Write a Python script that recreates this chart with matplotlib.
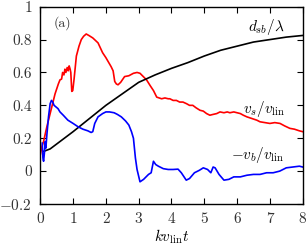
import numpy as np
import matplotlib
matplotlib.use('Agg')
import matplotlib.pyplot as plt

plt.rcParams['font.family'] = 'serif'
plt.rcParams['font.serif'] = ['cmr10']
plt.rcParams['mathtext.fontset'] = 'cm'
plt.rcParams['axes.formatter.use_mathtext'] = True

# %% data

red_x = [0.0, 0.05, 0.1, 0.2, 0.3, 0.4, 0.45, 0.5, 0.55, 0.6, 0.65, 0.68, 0.72, 0.75, 0.78,
         0.82, 0.85, 0.88, 0.91, 0.93, 0.96, 0.99, 1.03, 1.1, 1.18, 1.25, 1.32, 1.40, 1.48,
         1.6, 1.76, 1.9, 2.0, 2.16, 2.22, 2.27, 2.32, 2.37, 2.45, 2.57, 2.7, 2.84, 2.95,
         3.04, 3.14, 3.24, 3.35, 3.45, 3.55, 3.7, 3.8, 3.9, 3.95, 4.05, 4.15, 4.25, 4.35,
         4.46, 4.55, 4.65, 4.75, 4.87, 4.97, 5.07, 5.17, 5.27, 5.38, 5.48, 5.6, 5.7, 5.78,
         5.9, 6.0, 6.1, 6.19, 6.3, 6.45, 6.6, 6.7, 6.85, 7.0, 7.15, 7.31, 7.45, 7.61, 7.75,
         7.9, 8.0]
red_y = [0.10, 0.15, 0.18, 0.27, 0.35, 0.43, 0.47, 0.50, 0.53, 0.555, 0.56, 0.60, 0.585, 0.62, 0.60,
         0.63, 0.61, 0.64, 0.62, 0.60, 0.485, 0.49, 0.56, 0.70, 0.76, 0.80, 0.82, 0.834, 0.825,
         0.81, 0.78, 0.72, 0.69, 0.635, 0.61, 0.545, 0.53, 0.525, 0.54, 0.575, 0.58, 0.595, 0.60,
         0.595, 0.575, 0.555, 0.52, 0.49, 0.45, 0.44, 0.445, 0.44, 0.44, 0.43, 0.43, 0.42, 0.42,
         0.41, 0.40, 0.40, 0.385, 0.37, 0.365, 0.35, 0.34, 0.345, 0.35, 0.36, 0.355, 0.36, 0.355,
         0.36, 0.355, 0.35, 0.34, 0.33, 0.32, 0.31, 0.30, 0.295, 0.29, 0.295, 0.29, 0.275, 0.26, 0.255,
         0.245, 0.24]

blue_x = [0.06, 0.08, 0.1, 0.13, 0.15, 0.17, 0.2, 0.25, 0.3, 0.34, 0.38, 0.42, 0.48, 0.54, 0.6,
          0.7, 0.84, 1.0, 1.15, 1.3, 1.45, 1.55, 1.6, 1.66, 1.76, 1.9, 2.0, 2.11, 2.25, 2.35,
          2.47, 2.6, 2.7, 2.78, 2.84, 2.9, 2.95, 3.04, 3.15, 3.3, 3.38, 3.45, 3.52, 3.6, 3.75,
          3.9, 4.05, 4.2, 4.3, 4.45, 4.55, 4.7, 4.85, 4.97, 5.1, 5.2, 5.27, 5.33, 5.45, 5.6,
          5.75, 5.9, 6.1, 6.3, 6.5, 6.7, 6.9, 7.1, 7.3, 7.5, 7.7, 7.9, 8.0]
blue_y = [0.17, 0.08, 0.06, 0.12, 0.18, 0.14, 0.22, 0.33, 0.41, 0.43, 0.42, 0.40, 0.39, 0.38, 0.36,
          0.34, 0.31, 0.29, 0.27, 0.255, 0.245, 0.235, 0.24, 0.29, 0.33, 0.35, 0.36, 0.36, 0.355, 0.345,
          0.33, 0.305, 0.28, 0.24, 0.20, 0.08, 0.01, -0.065, -0.05, -0.02, -0.01, 0.06, 0.04, 0.03, 0.015,
          0.01, 0.01, 0.012, -0.01, -0.055, -0.045, -0.01, 0.005, 0.02, 0.01, -0.01, 0.025, 0.02, -0.02, -0.055,
          -0.05, -0.035, -0.035, -0.025, -0.02, -0.02, -0.01, -0.01, 0.0, 0.02, 0.025, 0.03, 0.025]

black_x = [0.1, 0.3, 0.6, 1.0, 1.5, 2.0, 2.5, 3.0, 3.5, 4.0, 4.5, 5.0, 5.5, 6.0, 6.5, 7.0, 7.5, 8.0]
black_y = [0.12, 0.135, 0.18, 0.24, 0.32, 0.40, 0.47, 0.54, 0.585, 0.625, 0.66, 0.70, 0.735, 0.76,
           0.785, 0.80, 0.815, 0.825]

x_ticks = [0, 1, 2, 3, 4, 5, 6, 7, 8]
y_ticks = [-0.2, 0, 0.2, 0.4, 0.6, 0.8, 1]
y_ticklabels = ['$-0.2$', '0', '0.2', '0.4', '0.6', '0.8', '1']

# %% plot

fig = plt.figure(figsize=(3.06, 2.46), dpi=100)
ax = fig.add_axes((0.1317, 0.1707, 0.8574, 0.8021))

ax.plot(red_x, red_y, color='#ff0000', linewidth=1.2)
ax.plot(black_x, black_y, color='k', linewidth=1.2)
ax.plot(blue_x, blue_y, color='#0000ff', linewidth=1.2)

ax.set_xlim(0, 8)
ax.set_ylim(-0.2, 1)
ax.set_xticks(x_ticks)
ax.set_xticklabels([str(t) for t in x_ticks])
ax.set_yticks(y_ticks)
ax.set_yticklabels(y_ticklabels)
ax.tick_params(direction='in', length=4, width=0.8, top=True, right=True,
               labelsize=11, pad=6, colors='k', labelcolor='#333333')
for s in ax.spines.values():
    s.set_linewidth(1.0)

ax.set_xlabel(r'$kv_{\rm lin}t$', fontsize=11, labelpad=1)

ax.text(0.4, 0.9, '(a)', fontsize=10, ha='left', va='center', color='#333333')
ax.text(7.45, 0.877, r'$d_{sb}/\lambda$', fontsize=11, ha='right', va='center')
ax.text(7.45, 0.378, r'$v_s/v_{\rm lin}$', fontsize=11, ha='right', va='center')
ax.text(7.45, 0.10, r'$-v_b/v_{\rm lin}$', fontsize=11, ha='right', va='center')

plt.savefig('out.png', dpi=100)
